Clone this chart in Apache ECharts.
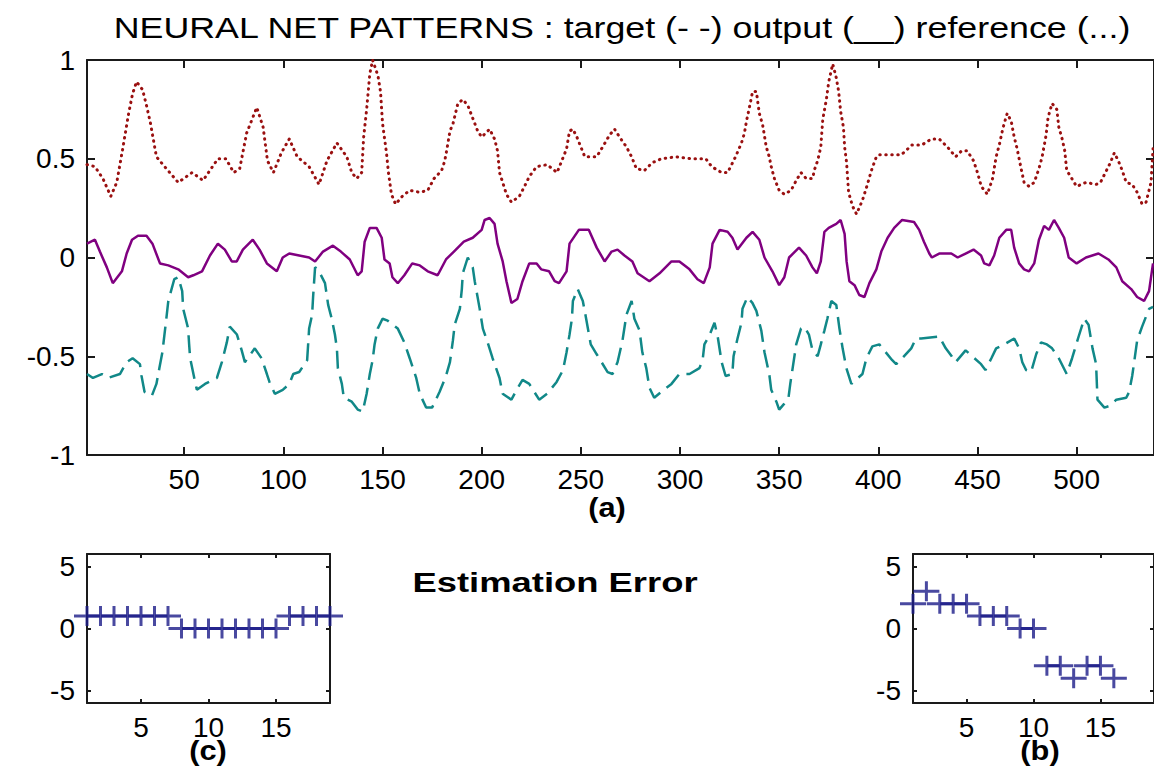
<!DOCTYPE html>
<html><head><meta charset="utf-8">
<script src="https://cdn.jsdelivr.net/npm/echarts@6/dist/echarts.min.js"></script>
<style>html,body{margin:0;padding:0;background:#fff}#c{width:1154px;height:766px}</style>
</head><body><div id="c"></div><script>
// ---------------- data ----------------
const xTicksMain = [50,100,150,200,250,300,350,400,450,500];
const xTicksSub = [5,10,15];
const yTicksSub = [-5,0,5];

// reference (dotted)  [sample, value]
const referenceData = [[1,0.47],[5,0.46],[9,0.40],[13,0.31],[16,0.38],[19,0.55],[22,0.73],[24,0.83],[26,0.89],[29,0.85],[31,0.77],[33,0.68],[36,0.51],[41,0.45],[47,0.38],[54,0.43],[59.5,0.39],[67,0.50],[71,0.50],[75,0.43],[78,0.45],[81.5,0.63],[86.6,0.76],[89.8,0.66],[92,0.49],[95,0.43],[99,0.53],[103,0.60],[107,0.51],[113,0.46],[118,0.37],[122,0.49],[127,0.58],[132,0.51],[134.5,0.43],[137,0.40],[139.5,0.43],[140.5,0.61],[142,0.75],[143.6,0.93],[145,1.0],[147.7,0.92],[149,0.84],[150,0.68],[152,0.53],[153,0.43],[154.5,0.32],[156.6,0.27],[160,0.31],[163.7,0.34],[168.8,0.33],[172.8,0.34],[176,0.40],[179.8,0.44],[181.4,0.49],[182.5,0.55],[184,0.64],[185.6,0.68],[188,0.78],[190.5,0.80],[193,0.77],[195.7,0.70],[198,0.64],[200,0.61],[204,0.65],[206.5,0.60],[208,0.54],[209,0.43],[210.6,0.38],[212.5,0.32],[215,0.28],[219,0.31],[221.6,0.36],[224,0.41],[227.7,0.46],[233,0.47],[238,0.43],[240.8,0.50],[242.8,0.55],[244.3,0.64],[246,0.65],[248,0.61],[252,0.51],[258,0.51],[261,0.56],[264.5,0.62],[267,0.65],[269.5,0.61],[273,0.56],[275.6,0.51],[278,0.45],[282,0.44],[286,0.48],[290.6,0.50],[298,0.51],[306,0.50],[313,0.50],[316,0.46],[321,0.43],[324,0.43],[328,0.51],[331,0.58],[332.5,0.63],[333.5,0.69],[335,0.76],[336.6,0.84],[338.5,0.84],[340,0.73],[341.7,0.67],[343.5,0.56],[345,0.51],[346,0.46],[347.6,0.40],[350,0.34],[352.6,0.32],[356,0.34],[358.6,0.39],[361,0.43],[363.6,0.40],[366.8,0.40],[368,0.45],[369.4,0.49],[371,0.56],[372,0.70],[373.8,0.80],[375,0.89],[377,0.98],[378.8,0.91],[380,0.84],[381,0.74],[382.4,0.66],[383,0.56],[384,0.48],[385,0.33],[387,0.26],[389,0.22],[392,0.29],[394.5,0.37],[396.5,0.44],[399,0.51],[400.5,0.52],[411.6,0.52],[417,0.57],[422,0.57],[426.7,0.60],[430.7,0.60],[434.8,0.56],[439,0.51],[442,0.54],[444.8,0.54],[448,0.49],[450,0.43],[451.9,0.36],[455,0.32],[457.6,0.40],[459.4,0.51],[461,0.57],[462.5,0.64],[463.5,0.68],[465,0.73],[467,0.69],[468.5,0.61],[470,0.55],[472,0.45],[473.5,0.38],[476,0.36],[478.6,0.38],[481,0.45],[482.6,0.51],[484.6,0.62],[485.6,0.71],[487.6,0.78],[490,0.75],[491,0.66],[492.7,0.60],[494,0.54],[495,0.44],[497,0.41],[498.7,0.38],[500,0.36],[504.7,0.38],[509.8,0.37],[512,0.38],[515,0.44],[517,0.48],[519,0.53],[521,0.49],[523,0.44],[525,0.38],[528,0.37],[530.5,0.33],[533,0.27],[535,0.28],[537.5,0.38],[538.5,0.55]];

// output (solid)
const outputData = [[1,0.07],[5,0.09],[7.5,0.03],[11,-0.05],[14,-0.13],[18.6,-0.07],[21,0.02],[23.7,0.09],[26.7,0.11],[31,0.11],[34,0.07],[37.8,-0.03],[42,-0.04],[47,-0.06],[52,-0.10],[54.6,-0.09],[59,-0.07],[63,0.01],[67,0.07],[70.5,0.04],[74,-0.02],[76.5,-0.02],[79.6,0.04],[84.6,0.09],[88,0.04],[91.7,-0.03],[96.7,-0.07],[99.7,0.00],[103,0.02],[108,0.01],[113,0.00],[116,-0.02],[120,0.03],[125,0.06],[129,0.03],[133.5,-0.01],[137.5,-0.09],[139.5,-0.07],[141,0.08],[143.6,0.15],[147,0.15],[149.6,0.10],[151,-0.01],[153.6,-0.03],[155,-0.10],[157.7,-0.13],[161,-0.09],[165,-0.03],[168.8,-0.04],[172.8,-0.07],[177.8,-0.09],[182,-0.01],[186,0.03],[191,0.08],[195.5,0.10],[200,0.14],[201.5,0.19],[204,0.20],[206.5,0.17],[208,0.07],[210.6,-0.02],[212.5,-0.12],[215,-0.23],[218,-0.21],[220.6,-0.12],[224,-0.03],[227.7,-0.03],[230,-0.06],[234,-0.07],[236.8,-0.12],[239,-0.13],[242.8,-0.07],[244.3,0.07],[249,0.14],[254,0.14],[258,0.05],[262,-0.02],[265.5,0.03],[268.5,0.04],[272,0.01],[276,-0.02],[278.6,-0.08],[284.6,-0.12],[289.7,-0.08],[295.7,-0.02],[299.7,-0.02],[304.8,-0.06],[308.8,-0.11],[312,-0.13],[315,-0.05],[316.4,0.07],[320,0.14],[324,0.13],[326.4,0.10],[329,0.04],[333.5,0.10],[336.6,0.13],[340,0.09],[342.6,0.00],[346.6,-0.07],[350,-0.14],[352.6,-0.10],[355,0.00],[360,0.05],[363.6,0.01],[366.8,-0.05],[369,-0.08],[371,-0.02],[372.8,0.13],[375,0.15],[378.8,0.17],[381,0.19],[383,0.12],[384,-0.02],[385.4,-0.12],[388,-0.14],[390.4,-0.19],[393,-0.20],[395.5,-0.13],[399,-0.06],[401.5,0.03],[404.7,0.10],[408,0.15],[412,0.19],[418,0.18],[420.6,0.14],[423,0.08],[425.7,0.02],[427,0.00],[430.7,0.02],[436.8,0.02],[440,0.00],[444,0.02],[448,0.04],[451.8,0.01],[453.4,-0.03],[456,-0.04],[458.4,0.01],[461,0.10],[464.5,0.14],[467,0.14],[468.5,0.05],[471,-0.03],[473.5,-0.06],[476,-0.07],[478.6,-0.03],[481,0.09],[483.6,0.16],[486,0.14],[488.6,0.19],[491,0.15],[493.7,0.10],[496,0.00],[500,-0.03],[504.7,0.00],[511,0.02],[516,-0.01],[520,-0.05],[523,-0.12],[527.5,-0.16],[530.5,-0.20],[534,-0.22],[536.5,-0.17],[538.5,-0.03]];

// target (dashed)
const targetData = [[1,-0.59],[4,-0.61],[8.5,-0.59],[11.6,-0.61],[17.6,-0.59],[21,-0.53],[24,-0.51],[27.7,-0.54],[28.5,-0.60],[30,-0.68],[33.7,-0.70],[36,-0.64],[37.5,-0.56],[39,-0.48],[41,-0.31],[42,-0.22],[45,-0.11],[47,-0.10],[49,-0.17],[49.5,-0.26],[52,-0.36],[52.5,-0.44],[53,-0.51],[55.5,-0.63],[56.4,-0.67],[60.5,-0.64],[66.5,-0.61],[69,-0.53],[71.5,-0.43],[73,-0.35],[76.6,-0.39],[79,-0.47],[80.6,-0.53],[85.6,-0.46],[89,-0.51],[91.7,-0.59],[93,-0.63],[95.7,-0.69],[99.7,-0.67],[103,-0.64],[105,-0.59],[108,-0.58],[112,-0.52],[113,-0.36],[114.5,-0.29],[115,-0.20],[116,-0.05],[117.5,-0.06],[121,-0.13],[122.6,-0.24],[124.4,-0.31],[126,-0.39],[127,-0.46],[127.5,-0.56],[129.5,-0.64],[130.5,-0.71],[134.5,-0.73],[137.5,-0.77],[140,-0.78],[142,-0.69],[143.6,-0.59],[145,-0.52],[146,-0.44],[147.6,-0.36],[150,-0.31],[152.6,-0.32],[157.7,-0.36],[161,-0.43],[163.7,-0.51],[167,-0.61],[168.8,-0.69],[172,-0.76],[175,-0.76],[178.8,-0.68],[182,-0.60],[184,-0.53],[185.5,-0.42],[186.4,-0.34],[189,-0.26],[190,-0.16],[190.5,-0.08],[193,0.00],[195.5,-0.05],[196.5,-0.12],[199,-0.26],[200.6,-0.36],[203,-0.43],[205.5,-0.51],[209,-0.61],[210.6,-0.69],[215,-0.72],[217.6,-0.67],[220.6,-0.62],[224,-0.64],[229,-0.72],[233,-0.69],[237.8,-0.63],[241,-0.57],[242.8,-0.48],[244.3,-0.39],[245.5,-0.31],[246,-0.22],[248.4,-0.16],[251,-0.22],[252.5,-0.30],[255,-0.44],[258,-0.49],[263.5,-0.58],[266,-0.59],[268.5,-0.53],[271,-0.42],[273,-0.29],[275.6,-0.22],[277,-0.31],[279.6,-0.37],[281,-0.48],[283,-0.56],[284.6,-0.66],[287,-0.71],[290.6,-0.68],[295.7,-0.64],[299.7,-0.59],[304.8,-0.59],[309.8,-0.56],[311.4,-0.52],[312.3,-0.44],[315,-0.39],[317.4,-0.33],[319,-0.40],[321,-0.53],[323,-0.60],[326.4,-0.59],[327,-0.50],[329,-0.41],[331,-0.33],[331.5,-0.26],[334,-0.20],[336.5,-0.23],[338.5,-0.27],[341,-0.37],[342.6,-0.48],[345,-0.59],[346,-0.67],[348.6,-0.73],[350,-0.77],[352.6,-0.74],[354.7,-0.71],[355.6,-0.64],[356.8,-0.56],[358.6,-0.44],[361,-0.36],[362.6,-0.35],[365,-0.39],[366.8,-0.47],[369.4,-0.50],[371,-0.44],[372.8,-0.37],[374.3,-0.31],[376.3,-0.22],[378.8,-0.24],[380.4,-0.36],[382,-0.46],[383.9,-0.56],[386.4,-0.64],[392,-0.59],[394,-0.51],[397,-0.45],[400.5,-0.44],[407,-0.52],[409,-0.54],[412,-0.51],[416.6,-0.46],[419,-0.41],[421.6,-0.41],[430.7,-0.40],[434,-0.46],[437,-0.50],[439,-0.53],[444,-0.47],[451.8,-0.54],[454,-0.57],[457,-0.51],[459.4,-0.46],[463.5,-0.44],[468.5,-0.41],[471,-0.46],[472.6,-0.53],[474.5,-0.57],[477,-0.58],[479.6,-0.49],[482,-0.43],[485,-0.44],[487.6,-0.46],[491,-0.51],[495,-0.59],[497.7,-0.51],[501,-0.40],[503.8,-0.31],[506,-0.34],[508,-0.46],[509.8,-0.54],[510.5,-0.72],[514,-0.76],[517,-0.75],[520,-0.72],[525,-0.71],[526.5,-0.68],[528,-0.60],[529,-0.53],[530.5,-0.42],[533,-0.35],[536.5,-0.26],[538.5,-0.25]];

// estimation errors
const errorC = [1,1,1,1,1,1,1,0,0,0,0,0,0,0,0,1,1,1,1];
const errorB = [2,3,2,2,2,1,1,1,0,0,-3,-3,-4,-3,-3,-4];

// ---------------- chart ----------------
const FONT = 'Liberation Sans';
const AX = '#1a1a1a';
const PLUS = 'path://M0,8.5H26V11.5H0Z M11.5,0H14.5V20H11.5Z';

function xAx(grid, pos, min, max, ticks, label, tlen, lw, fs) {
  return {type:'value', gridIndex:grid, position:pos, min:min, max:max,
    axisLine:{show:true, onZero:false, lineStyle:{color:AX, width:lw}},
    axisTick:{show:true, inside:true, length:tlen, customValues:ticks, lineStyle:{color:AX, width:lw}},
    axisLabel:{show:label, customValues:ticks, color:'#000', fontFamily:FONT, fontSize:fs, margin:10},
    splitLine:{show:false}};
}
function yAx(grid, pos, min, max, ticks, interval, label, tlen, lw, fs) {
  const a = {type:'value', gridIndex:grid, position:pos, min:min, max:max,
    axisLine:{show:true, onZero:false, lineStyle:{color:AX, width:lw}},
    axisTick:{show:true, inside:true, length:tlen, lineStyle:{color:AX, width:lw}},
    axisLabel:{show:label, color:'#000', fontFamily:FONT, fontSize:fs, margin:12},
    splitLine:{show:false}};
  if (ticks) { a.axisTick.customValues = ticks; a.axisLabel.customValues = ticks; }
  if (interval) a.interval = interval;
  return a;
}

const chart = echarts.init(document.getElementById('c'), null, {renderer:'svg'});
chart.setOption({
  backgroundColor:'#ffffff',
  animation:false,
  grid:[
    {left:87, top:60, width:1067, height:395, outerBoundsMode:'none', containLabel:false},
    {left:87, top:554, width:243, height:149, outerBoundsMode:'none', containLabel:false},
    {left:913, top:554, width:241, height:149, outerBoundsMode:'none', containLabel:false}
  ],
  xAxis:[
    xAx(0,'bottom',1,539,xTicksMain,true,8,2,28),
    xAx(0,'top',1,539,xTicksMain,false,8,2,28),
    xAx(1,'bottom',1,19,xTicksSub,true,4,2,28),
    xAx(1,'top',1,19,xTicksSub,false,4,2,28),
    xAx(2,'bottom',1,19,xTicksSub,true,4,2,28),
    xAx(2,'top',1,19,xTicksSub,false,4,2,28)
  ],
  yAxis:[
    yAx(0,'left',-1,1,null,0.5,true,8,2,28),
    yAx(0,'right',-1,1,null,0.5,false,8,2,28),
    yAx(1,'left',-6,6,yTicksSub,null,true,4,2,28),
    yAx(1,'right',-6,6,yTicksSub,null,false,4,2,28),
    yAx(2,'left',-6,6,yTicksSub,null,true,4,2,28),
    yAx(2,'right',-6,6,yTicksSub,null,false,4,2,28)
  ],
  series:[
    {name:'reference', type:'line', xAxisIndex:0, yAxisIndex:0, data:referenceData, showSymbol:false, silent:true,
      lineStyle:{color:'#9a1010', width:3, type:[0.5,5.5], cap:'round'}},
    {name:'output', type:'line', xAxisIndex:0, yAxisIndex:0, data:outputData, showSymbol:false, silent:true,
      lineStyle:{color:'#800080', width:2.5}},
    {name:'target', type:'line', xAxisIndex:0, yAxisIndex:0, data:targetData, showSymbol:false, silent:true,
      lineStyle:{color:'#118888', width:2.5, type:[18,8]}},
    {name:'errC', type:'scatter', xAxisIndex:2, yAxisIndex:2, data:errorC.map((v,i)=>[i+1,v]), clip:false, silent:true,
      symbol:PLUS, symbolSize:[26,20], itemStyle:{color:'#1c1c88'}},
    {name:'errB', type:'scatter', xAxisIndex:4, yAxisIndex:4, data:errorB.map((v,i)=>[i+1,v]), clip:false, silent:true,
      symbol:PLUS, symbolSize:[26,20], itemStyle:{color:'#1c1c88'}}
  ],
  graphic:[
    {type:'text', x:622, y:28, scaleX:1.234, style:{text:'NEURAL NET PATTERNS : target (- -) output (__) reference (...)', font:'29px "Liberation Sans"', fill:'#000', align:'center', verticalAlign:'middle'}},
    {type:'text', x:607, y:507, scaleX:1.1, style:{text:'(a)', font:'bold 28px "Liberation Sans"', fill:'#000', align:'center', verticalAlign:'middle'}},
    {type:'text', x:555, y:583, scaleX:1.3, style:{text:'Estimation Error', font:'bold 28px "Liberation Sans"', fill:'#000', align:'center', verticalAlign:'middle'}},
    {type:'text', x:208, y:750, scaleX:1.1, style:{text:'(c)', font:'bold 28px "Liberation Sans"', fill:'#000', align:'center', verticalAlign:'middle'}},
    {type:'text', x:1040, y:750, scaleX:1.1, style:{text:'(b)', font:'bold 28px "Liberation Sans"', fill:'#000', align:'center', verticalAlign:'middle'}}
  ]
});
</script></body></html>
